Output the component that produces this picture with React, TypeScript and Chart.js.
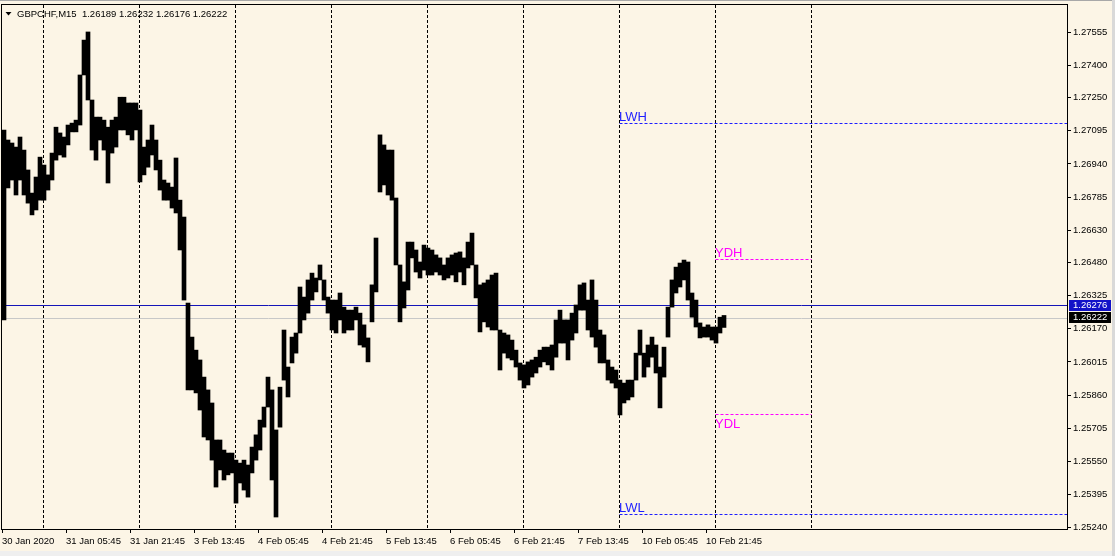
import React, { useEffect, useRef } from "react";
import { Chart, registerables } from "chart.js";

Chart.register(...registerables);

// ---------- data ----------
const SYMBOL_TEXT = "GBPCHF,M15";
const LAST_OHLC = [1.26189, 1.26232, 1.26176, 1.26222];

// hourly (4 x M15 bars) highs / lows
const HOUR_HIGHS = [
  1.27099, 1.27052, 1.27038, 1.27019, 1.27066, 1.27005, 1.26912, 1.26804, 1.26879, 1.26972,
  1.26935, 1.26889, 1.26991, 1.27112, 1.27085, 1.27066, 1.27122, 1.27131, 1.27145, 1.27356,
  1.27519, 1.27557, 1.27239, 1.27159, 1.27159, 1.27145, 1.27112, 1.27145, 1.27159, 1.27252,
  1.27252, 1.27225, 1.27225, 1.27225, 1.27192, 1.27019, 1.27052, 1.27122, 1.27052, 1.26958,
  1.26865, 1.26851, 1.26832, 1.26968, 1.26771, 1.26692, 1.26290, 1.26131, 1.26070, 1.26024,
  1.25944, 1.25884, 1.25823, 1.25650, 1.25650, 1.25603, 1.25589, 1.25589, 1.25556, 1.25542,
  1.25556, 1.25533, 1.25617, 1.25674, 1.25743, 1.25804, 1.25944, 1.25884, 1.25697, 1.25897,
  1.26164, 1.25991, 1.26131, 1.26150, 1.26365, 1.26318, 1.26398, 1.26430, 1.26407, 1.26468,
  1.26398, 1.26318, 1.26304, 1.26304, 1.26337, 1.26271, 1.26257, 1.26257, 1.26271, 1.26243,
  1.26188, 1.26127, 1.26375, 1.26594, 1.27076, 1.27029, 1.27005, 1.27005, 1.26781, 1.26468,
  1.26389, 1.26575, 1.26575, 1.26538, 1.26482, 1.26561, 1.26547, 1.26538, 1.26515, 1.26501,
  1.26468, 1.26501, 1.26515, 1.26524, 1.26529, 1.26501, 1.26575, 1.26617, 1.26468, 1.26375,
  1.26384, 1.26398, 1.26421, 1.26430, 1.26164, 1.26150, 1.26141, 1.26117, 1.26070, 1.26010,
  1.26001, 1.26015, 1.26024, 1.26037, 1.26070, 1.26084, 1.26084, 1.26094, 1.26211, 1.26257,
  1.26211, 1.26211, 1.26243, 1.26281, 1.26375, 1.26384, 1.26304, 1.26398, 1.26304, 1.26164,
  1.26141, 1.26024, 1.25991, 1.25977, 1.25930, 1.25916, 1.25930, 1.25930, 1.26056, 1.26164,
  1.26056, 1.26094, 1.26131, 1.26094, 1.25991, 1.26084, 1.26271, 1.26398, 1.26458, 1.26477,
  1.26491, 1.26482, 1.26337, 1.26304, 1.26197, 1.26178, 1.26188, 1.26178, 1.26178, 1.26224,
  1.26232,
];

const HOUR_LOWS = [
  1.26211, 1.26828, 1.26865, 1.26795, 1.26865, 1.26795, 1.26757, 1.26702, 1.26725, 1.26771,
  1.26771, 1.26818, 1.26865, 1.26958, 1.26982, 1.26972, 1.27029, 1.27090, 1.27090, 1.27122,
  1.27356, 1.27239, 1.27005, 1.26958, 1.27052, 1.27005, 1.26851, 1.26991, 1.27019, 1.27099,
  1.27099, 1.27076, 1.27052, 1.27099, 1.26856, 1.26889, 1.26925, 1.26982, 1.26912, 1.26818,
  1.26771, 1.26771, 1.26734, 1.26711, 1.26538, 1.26304, 1.25884, 1.25884, 1.25870, 1.25790,
  1.25664, 1.25650, 1.25556, 1.25430, 1.25510, 1.25463, 1.25487, 1.25496, 1.25355, 1.25449,
  1.25416, 1.25383, 1.25496, 1.25556, 1.25603, 1.25710, 1.25804, 1.25463, 1.25290, 1.25710,
  1.25930, 1.25851, 1.26010, 1.26056, 1.26150, 1.26211, 1.26243, 1.26304, 1.26342, 1.26398,
  1.26304, 1.26243, 1.26164, 1.26150, 1.26211, 1.26150, 1.26164, 1.26164, 1.26211, 1.26094,
  1.26084, 1.26015, 1.26202, 1.26342, 1.26809, 1.26842, 1.26795, 1.26771, 1.26468, 1.26202,
  1.26267, 1.26351, 1.26501, 1.26435, 1.26407, 1.26444, 1.26421, 1.26421, 1.26435, 1.26421,
  1.26398, 1.26407, 1.26421, 1.26389, 1.26435, 1.26375, 1.26454, 1.26468, 1.26314, 1.26155,
  1.26202, 1.26178, 1.26164, 1.26164, 1.25977, 1.26056, 1.26033, 1.26024, 1.25991, 1.25930,
  1.25893, 1.25907, 1.25944, 1.25963, 1.25991, 1.26015, 1.26001, 1.25977, 1.26037, 1.26103,
  1.26103, 1.26024, 1.26117, 1.26150, 1.26257, 1.26257, 1.26164, 1.26131, 1.26084, 1.26010,
  1.26010, 1.25930, 1.25916, 1.25893, 1.25767, 1.25823, 1.25837, 1.25851, 1.25930, 1.26047,
  1.25944, 1.25991, 1.26037, 1.25963, 1.25800, 1.25944, 1.26131, 1.26271, 1.26337, 1.26365,
  1.26398, 1.26304, 1.26224, 1.26178, 1.26127, 1.26131, 1.26131, 1.26117, 1.26103, 1.26150,
  1.26176,
];

const BARS_PER_HOUR = 4; // M15 bars per hour

const X_TICK_BARS = [0, 64, 128, 192, 256, 320, 384, 448, 512, 576, 640, 704];
const X_TICK_LABELS = [
  "30 Jan 2020", "31 Jan 05:45", "31 Jan 21:45", "3 Feb 13:45", "4 Feb 05:45", "4 Feb 21:45",
  "5 Feb 13:45", "6 Feb 05:45", "6 Feb 21:45", "7 Feb 13:45", "10 Feb 05:45", "10 Feb 21:45",
];
const DAY_START_BARS = [42, 138, 234, 330, 426, 522, 618, 714, 810];

const Y_TICKS = [
  1.27555, 1.274, 1.2725, 1.27095, 1.2694, 1.26785, 1.2663, 1.2648, 1.26325, 1.2617,
  1.26015, 1.2586, 1.25705, 1.2555, 1.25395, 1.2524,
];
const Y_MIN = 1.25234;
const Y_MAX = 1.27683;
const X_MAX = 1066;

const LEVEL_NAMES = ["LWH", "LWL", "YDH", "YDL"];
const LEVEL_VALUES = [1.2713, 1.25303, 1.26494, 1.25771];
const LEVEL_FROM_DAY = [6, 6, 7, 7]; // index into DAY_START_BARS
const LEVEL_TO_DAY = [-1, -1, 8, 8]; // -1 = right edge
const LEVEL_COLORS = ["#1e1eff", "#1e1eff", "#ff00ff", "#ff00ff"];
const LEVEL_BELOW = [false, false, false, true];

const HLINE_VALUE = 1.26276;
const BID_VALUE = LAST_OHLC[3];

// ---------- styles ----------
const BG = "#fcf5e6";
const FONT = "'Liberation Sans', Arial, sans-serif";
const FS = 9.5;

const overlay = {
  id: "mtOverlay",
  beforeDraw(chart: any) {
    const { ctx, width, height } = chart;
    ctx.save();
    ctx.fillStyle = BG;
    ctx.fillRect(0, 0, width, height);
    ctx.fillStyle = "#efefef";
    ctx.fillRect(0, 551, width, height - 551);
    ctx.fillStyle = "#a8a8a8";
    ctx.fillRect(0, 0, width, 1);
    ctx.fillStyle = "#d9d9d9";
    ctx.fillRect(width - 3, 0, 3, height);
    ctx.restore();
  },
  beforeDatasetsDraw(chart: any) {
    const { ctx, chartArea } = chart;
    const xs = chart.scales.x;
    const ys = chart.scales.y;
    const sepX = (b: number) => Math.floor(xs.getPixelForValue(b)) - 0.5;
    ctx.save();
    // day separators
    ctx.strokeStyle = "#000";
    ctx.lineWidth = 1;
    ctx.setLineDash([3, 2]);
    DAY_START_BARS.forEach((b) => {
      const x = sepX(b);
      ctx.beginPath();
      ctx.moveTo(x, chartArea.top);
      ctx.lineTo(x, chartArea.bottom);
      ctx.stroke();
    });
    // levels
    LEVEL_NAMES.forEach((name, i) => {
      const y = Math.round(ys.getPixelForValue(LEVEL_VALUES[i])) + 0.5;
      const x0 = sepX(DAY_START_BARS[LEVEL_FROM_DAY[i]]);
      const x1 = LEVEL_TO_DAY[i] < 0 ? chartArea.right - 1 : sepX(DAY_START_BARS[LEVEL_TO_DAY[i]]);
      ctx.strokeStyle = LEVEL_COLORS[i];
      ctx.setLineDash([3, 2]);
      ctx.beginPath();
      ctx.moveTo(x0, y);
      ctx.lineTo(x1, y);
      ctx.stroke();
      ctx.setLineDash([]);
      ctx.fillStyle = LEVEL_COLORS[i];
      ctx.font = `13px ${FONT}`;
      ctx.textAlign = "left";
      ctx.textBaseline = "alphabetic";
      ctx.fillText(name, x0 - 0.5, LEVEL_BELOW[i] ? y + 13 : y - 3);
    });
    ctx.setLineDash([]);
    // horizontal line and bid line
    const yb = Math.round(ys.getPixelForValue(BID_VALUE)) + 0.5;
    ctx.strokeStyle = "#c8c8c8";
    ctx.beginPath();
    ctx.moveTo(chartArea.left, yb);
    ctx.lineTo(chartArea.right, yb);
    ctx.stroke();
    const yh = Math.round(ys.getPixelForValue(HLINE_VALUE)) - 0.5;
    ctx.strokeStyle = "#1414b8";
    ctx.beginPath();
    ctx.moveTo(chartArea.left, yh);
    ctx.lineTo(chartArea.right, yh);
    ctx.stroke();
    ctx.restore();
  },
  afterDraw(chart: any) {
    const { ctx, chartArea } = chart;
    const ys = chart.scales.y;
    ctx.save();
    // frame
    ctx.strokeStyle = "#000";
    ctx.lineWidth = 1;
    ctx.strokeRect(1.5, chartArea.top - 0.5, chartArea.right - 2, chartArea.bottom - chartArea.top + 1);
    // title
    ctx.fillStyle = "#000";
    ctx.beginPath();
    ctx.moveTo(5.5, 12);
    ctx.lineTo(11.5, 12);
    ctx.lineTo(8.5, 15.5);
    ctx.closePath();
    ctx.fill();
    ctx.font = `${FS}px ${FONT}`;
    ctx.textAlign = "left";
    ctx.textBaseline = "alphabetic";
    ctx.fillText(`${SYMBOL_TEXT}  ${LAST_OHLC.map((v) => v.toFixed(5)).join(" ")}`, 17, 17);
    // price boxes on axis
    const box = (v: number, bg: string) => {
      const y = ys.getPixelForValue(v);
      ctx.fillStyle = bg;
      ctx.fillRect(chartArea.right + 1, Math.round(y) - 6, 42, 11);
      ctx.fillStyle = "#fff";
      ctx.textBaseline = "middle";
      ctx.fillText(v.toFixed(5), chartArea.right + 5, Math.round(y) - 0.5);
    };
    box(HLINE_VALUE, "#1212c8");
    box(BID_VALUE, "#000");
    ctx.restore();
  },
};

export default function App() {
  const ref = useRef<HTMLCanvasElement>(null);
  useEffect(() => {
    const canvas = ref.current;
    if (!canvas) return;
    const data = HOUR_HIGHS.map((hi, i) => ({
      x: i * BARS_PER_HOUR + BARS_PER_HOUR / 2,
      y: [HOUR_LOWS[i], hi],
    }));
    const chart = new Chart(canvas, {
      type: "bar",
      data: {
        datasets: [
          {
            data: data as any,
            backgroundColor: "#000",
            borderWidth: 0,
            barThickness: 4,
            grouped: false,
          } as any,
        ],
      },
      options: {
        animation: false,
        responsive: false,
        devicePixelRatio: 1,
        layout: { padding: { left: 2, top: 5, right: 0, bottom: 0 } },
        plugins: {
          legend: { display: false },
          tooltip: { enabled: false },
        },
        scales: {
          x: {
            type: "linear",
            min: 0,
            max: X_MAX,
            offset: false,
            position: "bottom",
            grid: { drawOnChartArea: false, drawTicks: true, tickLength: 4, color: "#000", offset: false },
            border: { display: false },
            ticks: {
              autoSkip: false,
              maxRotation: 0,
              minRotation: 0,
              align: "start",
              padding: 3,
              color: "#000",
              font: { family: FONT, size: FS },
              callback: (_v: any, i: number) => X_TICK_LABELS[i],
            },
            afterBuildTicks: (s: any) => {
              s.ticks = X_TICK_BARS.map((v) => ({ value: v }));
            },
            afterFit: (s: any) => {
              s.height = 27;
              s.paddingLeft = 0;
              s.paddingRight = 0;
            },
          } as any,
          y: {
            type: "linear",
            position: "right",
            min: Y_MIN,
            max: Y_MAX,
            grid: { drawOnChartArea: false, drawTicks: true, tickLength: 3, color: "#000" },
            border: { display: false },
            ticks: {
              padding: 2,
              color: "#000",
              font: { family: FONT, size: FS },
              callback: (v: any) => Number(v).toFixed(5),
            },
            afterBuildTicks: (s: any) => {
              s.ticks = Y_TICKS.map((v) => ({ value: v }));
            },
            afterFit: (s: any) => {
              s.width = 47;
              s.paddingTop = 0;
              s.paddingBottom = 0;
            },
          } as any,
        },
      },
      plugins: [overlay],
    });
    return () => chart.destroy();
  }, []);
  return (
    <div style={{ position: "fixed", left: 0, top: 0, width: 1115, height: 556, background: BG }}>
      <canvas ref={ref} width={1115} height={556} style={{ display: "block" }} />
    </div>
  );
}
